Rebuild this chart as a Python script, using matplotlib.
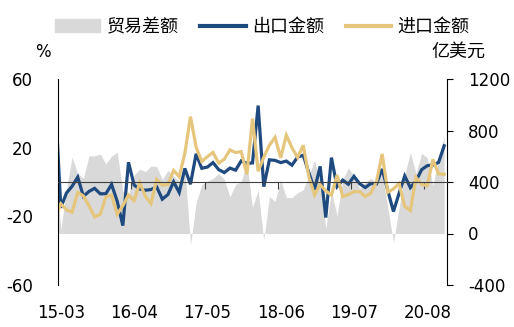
import numpy as np
import matplotlib
matplotlib.use("Agg")
import matplotlib.pyplot as plt
from matplotlib.patches import Patch
from matplotlib.lines import Line2D

plt.rcParams['font.family'] = ['DejaVu Sans', 'Noto Sans CJK SC']
plt.rcParams['axes.unicode_minus'] = False

# monthly data, 2015-02 .. 2020-11 (first month sits just left of the axis)
export_yoy = [48.3,
              -15.0, -6.4, -2.5, 2.8, -8.3, -5.5, -3.7, -6.9, -6.8, -1.4,
              -11.2, -25.4, 11.5, -1.8, -4.1, -4.8, -4.4, -2.8, -10.0, -7.3, 0.1, -6.1,
              7.9, -1.3, 16.4, 8.0, 8.7, 11.3, 7.2, 5.5, 8.1, 6.9, 12.3, 10.9,
              11.1, 44.5, -2.7, 12.9, 12.6, 11.3, 12.2, 9.8, 14.5, 15.6, 5.4, -4.4,
              9.1, -20.7, 14.2, -2.7, 1.1, -1.3, 3.3, -1.0, -3.2, -0.9, -1.1, 7.6,
              -5.0, -17.2, -6.6, 3.5, -3.3, 0.5, 7.2, 9.5, 9.9, 11.4, 21.1]
import_yoy = [-20.5,
              -12.7, -16.2, -17.6, -6.1, -8.1, -13.8, -20.4, -18.8, -8.7, -7.6,
              -18.8, -13.8, -7.6, -10.9, -0.4, -8.4, -12.5, 1.5, -1.9, -1.4, 6.7, 3.1,
              16.7, 38.1, 20.3, 11.9, 14.8, 17.2, 11.0, 13.3, 18.7, 17.2, 17.7, 4.5,
              36.9, 6.3, 14.4, 21.5, 26.0, 14.1, 27.3, 20.0, 14.3, 21.4, 3.0, -7.6,
              -1.5, -5.2, -7.6, 4.0, -8.5, -7.3, -5.6, -5.6, -8.5, -6.4, 0.3, 16.3,
              -6.0, -4.0, -0.9, -14.2, -16.7, 2.7, -1.4, -2.1, 13.2, 4.7, 4.5]
trade_balance = [606,
                 30, 341, 594, 465, 430, 602, 603, 617, 541, 601,
                 632, 326, 298, 455, 500, 481, 523, 521, 420, 490, 446, 407,
                 513, -91, 239, 380, 407, 428, 467, 420, 285, 381, 402, 547,
                 203, 337, -50, 287, 249, 416, 280, 279, 317, 340, 447, 571,
                 392, 41, 326, 138, 417, 510, 450, 348, 397, 429, 387, 467,
                 200, -70, 199, 453, 629, 465, 623, 589, 370, 584, 754]

tick_labels = ['15-03', '16-04', '17-05', '18-06', '19-07', '20-08']
label_every = 13

blue = '#1f4a80'
gold = '#e5c67c'
grey = '#d9d9d9'

x = np.arange(len(export_yoy)) - 1

fig = plt.figure(figsize=(5.14, 3.27), dpi=100)
ax = fig.add_axes([58 / 514, 1 - 285 / 327, (447 - 58) / 514, (285 - 79) / 327])
ax2 = ax.twinx()
ax.set_zorder(ax2.get_zorder() + 1)
ax.patch.set_visible(False)

ax2.fill_between(x, 0, trade_balance, color=grey, lw=0)
ax.plot(x, export_yoy, color=blue, lw=2.3, solid_joinstyle='miter')
ax.plot(x, import_yoy, color=gold, lw=2.3, solid_joinstyle='miter')

ax.set_xlim(-0.5, len(x) - 1.5)
ax.set_ylim(-60, 60)
ax2.set_ylim(-400, 1200)
ax.set_yticks([-60, -20, 20, 60])
ax2.set_yticks([-400, 0, 400, 800, 1200])

for s in ['top', 'right']:
    ax.spines[s].set_visible(False)
for s in ['top', 'left', 'bottom']:
    ax2.spines[s].set_visible(False)
ax.spines['left'].set_color('black')
ax2.spines['right'].set_color('black')
ax.spines['bottom'].set_position(('data', 0))
ax.spines['bottom'].set_color('#404040')

# tick marks on the zero line between categories, labels at the bottom
ax.set_xticks(np.arange(-0.5 + label_every, len(x) - 1.5, label_every))
ax.tick_params(axis='x', direction='out', length=5, color='#404040', labelbottom=False)
sec = ax.secondary_xaxis(0.0)
sec.set_xticks(np.arange(len(tick_labels)) * label_every, labels=tick_labels)
sec.tick_params(length=0, pad=14, labelsize=12)
sec.spines['bottom'].set_visible(False)

ax.tick_params(axis='y', length=0, pad=18, labelsize=12)
ax2.tick_params(axis='y', direction='out', length=4, pad=11, labelsize=12)

fig.text(35 / 514, 1 - 52 / 327, '%', fontsize=12, va='center', ha='left')
fig.text(431 / 514, 1 - 52 / 327, '亿美元', fontsize=13, va='center', ha='left')

handles = [Patch(color=grey), Line2D([], [], color=blue, lw=3), Line2D([], [], color=gold, lw=3)]
fig.legend(handles, ['贸易差额', '出口金额', '进口金额'], loc='center',
           bbox_to_anchor=(0.51, 1 - 27 / 327), ncol=3, frameon=False, fontsize=13,
           handlelength=2.5, handletextpad=0.35, columnspacing=1.2, borderaxespad=0)

fig.savefig('out.png', dpi=100)
